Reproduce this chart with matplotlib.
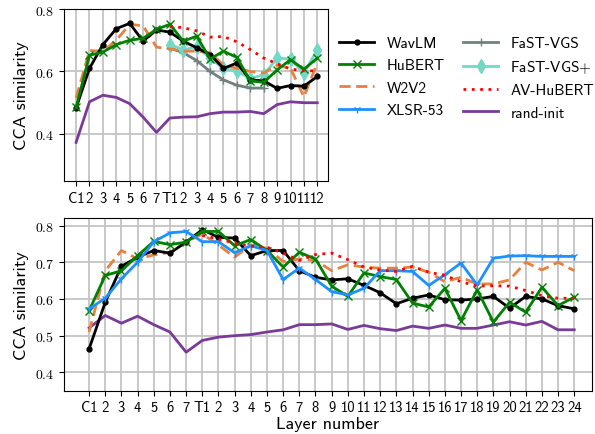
import matplotlib
matplotlib.use("Agg")
import matplotlib.pyplot as plt
from matplotlib.ticker import FormatStrFormatter

plt.rcParams['font.family'] = ['cmss10', 'DejaVu Sans']
plt.rcParams['mathtext.fontset'] = 'cm'
plt.rcParams['axes.unicode_minus'] = False

# tick labels
top_ticks = ["C1", "2", "3", "4", "5", "6", "7", "T1"] + [str(i) for i in range(2, 13)]
bot_ticks = ["C1", "2", "3", "4", "5", "6", "7", "T1"] + [str(i) for i in range(2, 25)]

# ---- base models (top) ----
top_wavlm = [0.483, 0.61, 0.686, 0.737, 0.754, 0.697, 0.733,
             0.726, 0.697, 0.676, 0.654, 0.61, 0.627, 0.573, 0.57, 0.546, 0.555, 0.553, 0.584]
top_hubert = [0.485, 0.652, 0.662, 0.686, 0.70, 0.706, 0.735,
              0.751, 0.697, 0.713, 0.64, 0.665, 0.645, 0.57, 0.565, 0.605, 0.638, 0.607, 0.643]
top_w2v2 = [0.515, 0.667, 0.665, 0.70, 0.751, 0.746, 0.678,
            0.672, 0.665, 0.665, 0.66, 0.62, 0.61, 0.60, 0.595, 0.62, 0.61, 0.519, 0.627]
top_fast = [0.675, 0.66, 0.635, 0.60, 0.573, 0.556, 0.547, 0.547]
top_fastp = [0.686, 0.67, 0.678, 0.643, 0.61, 0.60, 0.578, 0.589, 0.643, 0.64, 0.594, 0.67]
top_avh = [0.744, 0.74, 0.73, 0.71, 0.712, 0.695, 0.67, 0.643, 0.625, 0.608, 0.602, 0.602]
top_rand = [0.373, 0.503, 0.524, 0.517, 0.497, 0.454, 0.405,
            0.451, 0.454, 0.455, 0.465, 0.47, 0.47, 0.472, 0.465, 0.494, 0.503, 0.50, 0.50]

# ---- large models (bottom) ----
bot_wavlm = [0.464, 0.591, 0.689, 0.714, 0.732, 0.725, 0.755,
             0.789, 0.768, 0.766, 0.718, 0.732, 0.732, 0.677, 0.659, 0.652, 0.655, 0.637, 0.617,
             0.587, 0.602, 0.611, 0.598, 0.597, 0.60, 0.607, 0.575, 0.607, 0.60, 0.582, 0.573]
bot_hubert = [0.568, 0.664, 0.677, 0.718, 0.757, 0.748, 0.755,
              0.784, 0.784, 0.745, 0.762, 0.732, 0.687, 0.727, 0.709, 0.635, 0.607, 0.671, 0.661,
              0.653, 0.589, 0.578, 0.629, 0.541, 0.625, 0.537, 0.591, 0.564, 0.632, 0.582, 0.605]
bot_w2v2 = [0.51, 0.677, 0.732, 0.709, 0.72, 0.727, 0.755,
            0.777, 0.747, 0.714, 0.747, 0.738, 0.702, 0.709, 0.705, 0.677, 0.693, 0.687, 0.684,
            0.684, 0.687, 0.673, 0.647, 0.659, 0.641, 0.641, 0.652, 0.70, 0.679, 0.70, 0.677]
bot_xlsr = [0.573, 0.602, 0.655, 0.70, 0.756, 0.78, 0.784,
            0.756, 0.756, 0.726, 0.745, 0.732, 0.653, 0.684, 0.653, 0.62, 0.611, 0.629, 0.677,
            0.677, 0.675, 0.637, 0.666, 0.698, 0.638, 0.711, 0.717, 0.718, 0.716, 0.716, 0.716]
bot_avh = [0.773, 0.764, 0.752, 0.744, 0.741, 0.725, 0.705, 0.721, 0.725, 0.707, 0.687, 0.679,
           0.675, 0.689, 0.673, 0.664, 0.647, 0.635, 0.636, 0.635, 0.623, 0.609, 0.602, 0.602]
bot_rand = [0.521, 0.555, 0.534, 0.553, 0.53, 0.51, 0.455,
            0.487, 0.496, 0.50, 0.503, 0.51, 0.516, 0.53, 0.53, 0.532, 0.517, 0.528, 0.519,
            0.514, 0.526, 0.52, 0.529, 0.52, 0.52, 0.529, 0.538, 0.529, 0.539, 0.516, 0.516]

c_wavlm, c_hubert, c_w2v2 = "black", "#008000", "#e5823f"
c_xlsr, c_fast, c_fastp = "#1e90ff", "#738080", "#74d8c6"
c_avh, c_rand = "red", "#7a3a98"

fig = plt.figure(figsize=(5.95, 4.35), dpi=100)
ax1 = fig.add_axes([0.1076, 0.582, 0.4437, 0.395])
ax2 = fig.add_axes([0.1076, 0.0995, 0.8874, 0.3965])

lw = 2
h = {}
xt = list(range(len(top_ticks)))
xT = [7 + i for i in range(12)]
h['rand'], = ax1.plot(xt, top_rand, color=c_rand, lw=lw, label="rand-init")
h['fast'], = ax1.plot(xT[:len(top_fast)], top_fast, color=c_fast, lw=lw, marker="+", ms=6, label="FaST-VGS")
h['fastp'], = ax1.plot(xT, top_fastp, color=c_fastp, lw=lw, marker="d", ms=7, label="FaST-VGS$+$")
h['w2v2'], = ax1.plot(xt, top_w2v2, color=c_w2v2, lw=lw, ls=(0, (4, 2)), label="W2V2")
h['wavlm'], = ax1.plot(xt, top_wavlm, color=c_wavlm, lw=lw, marker=".", ms=7, label="WavLM")
h['hubert'], = ax1.plot(xt, top_hubert, color=c_hubert, lw=lw, marker="x", ms=6, label="HuBERT")
h['avh'], = ax1.plot(xT, top_avh, color=c_avh, lw=lw, ls=(0, (1, 2)), label="AV-HuBERT")

xb = list(range(len(bot_ticks)))
xB = [7 + i for i in range(24)]
ax2.plot(xb, bot_rand, color=c_rand, lw=lw)
ax2.plot(xb, bot_w2v2, color=c_w2v2, lw=lw, ls=(0, (4, 2)))
ax2.plot(xb, bot_wavlm, color=c_wavlm, lw=lw, marker=".", ms=7)
ax2.plot(xb, bot_hubert, color=c_hubert, lw=lw, marker="x", ms=6)
h['xlsr'], = ax2.plot(xb, bot_xlsr, color=c_xlsr, lw=lw, marker="1", ms=6, label="XLSR-53")
ax2.plot(xB, bot_avh, color=c_avh, lw=lw, ls=(0, (1, 2)))

for ax, ticks, xlim, ylim, yt in [
        (ax1, top_ticks, (-0.9, 18.8), (0.25, 0.8), [0.4, 0.6, 0.8]),
        (ax2, bot_ticks, (-1.55, 31.1), (0.35, 0.82), [0.4, 0.5, 0.6, 0.7, 0.8])]:
    ax.set_xticks(range(len(ticks)))
    ax.set_xticklabels(ticks, fontsize=10.5)
    ax.set_yticks(yt)
    ax.yaxis.set_major_formatter(FormatStrFormatter(r"$%.1f$"))
    ax.tick_params(axis="y", labelsize=10)
    ax.set_xlim(*xlim)
    ax.set_ylim(*ylim)
    ax.grid(True, color="#c4c4c4", lw=1.3)
    ax.set_axisbelow(True)
    ax.set_ylabel("CCA similarity", fontsize=13)
ax2.set_xlabel("Layer number", fontsize=13, labelpad=1)

order = ['wavlm', 'hubert', 'w2v2', 'xlsr', 'fast', 'fastp', 'avh', 'rand']
fig.legend([h[k] for k in order], [h[k].get_label() for k in order],
           loc="upper left", bbox_to_anchor=(0.57, 0.915), ncol=2, frameon=False,
           fontsize=11, handlelength=2.3, columnspacing=1.2, labelspacing=0.55,
           borderpad=0, borderaxespad=0)

fig.savefig("out.png", dpi=100)
